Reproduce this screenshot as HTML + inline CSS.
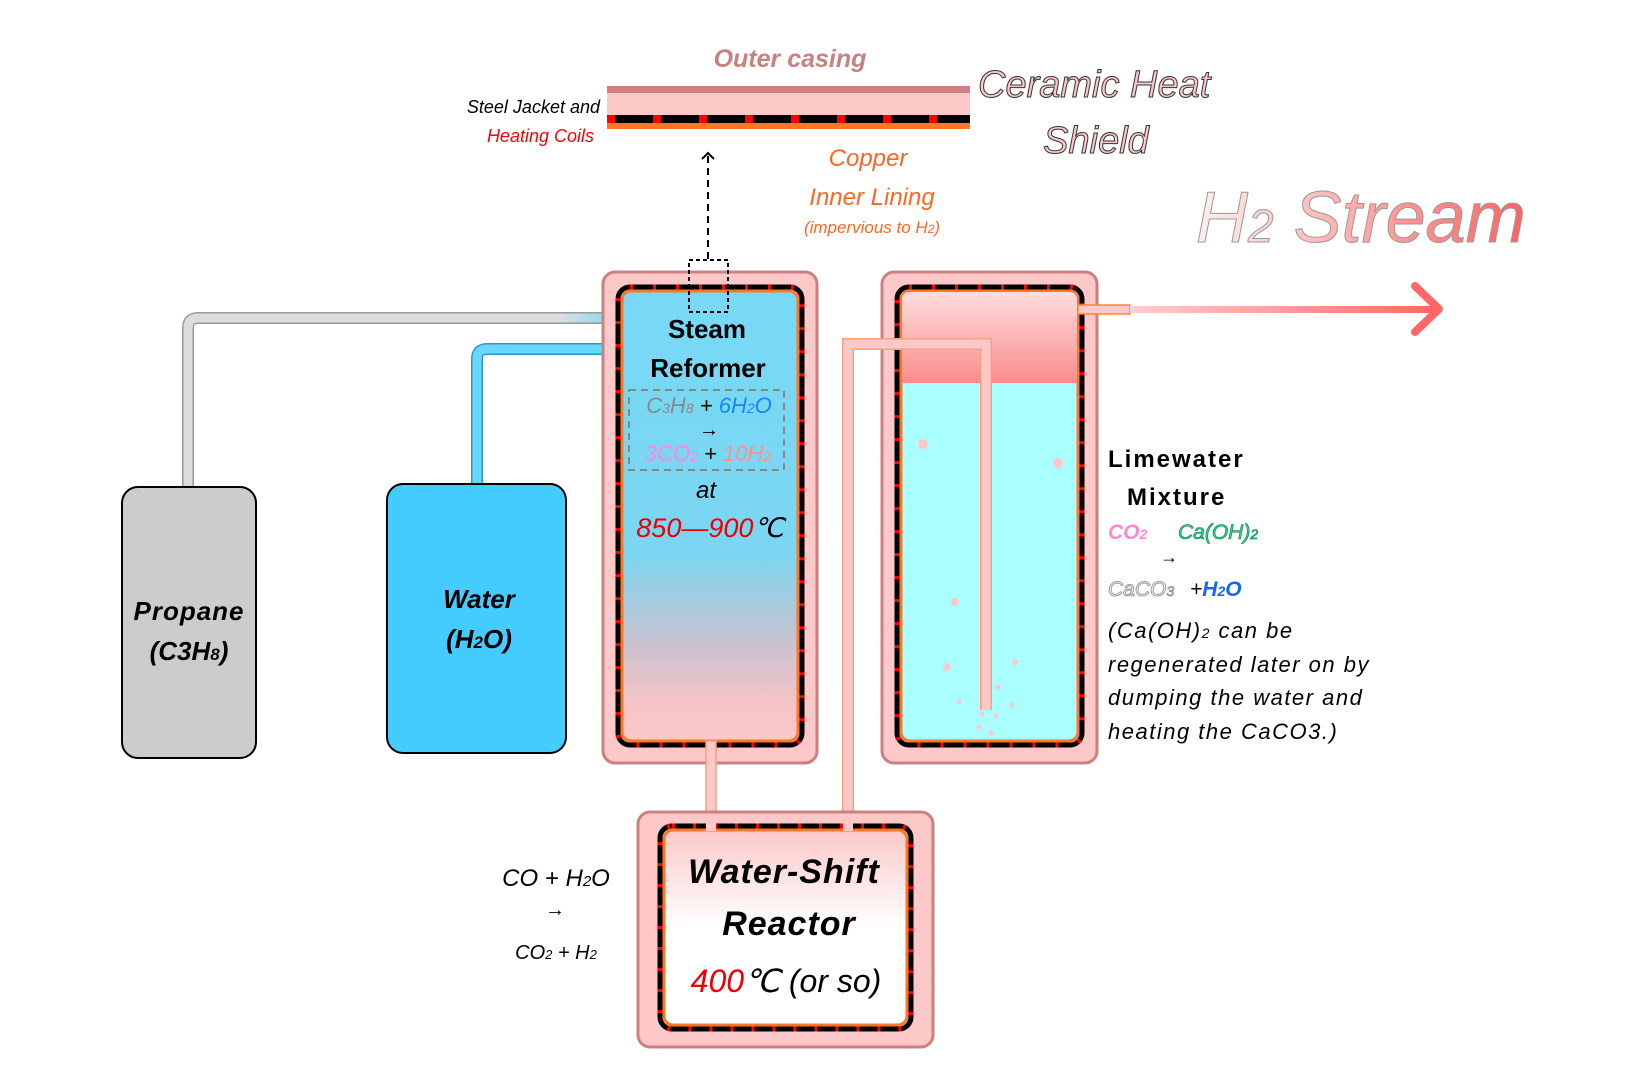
<!DOCTYPE html>
<html><head><meta charset="utf-8"><style>
html,body{margin:0;padding:0;background:#fff}
svg{display:block}
text{font-family:"Liberation Sans",sans-serif}
</style></head><body>
<svg width="1626" height="1090" viewBox="0 0 1626 1090" xmlns="http://www.w3.org/2000/svg">
<defs>
<linearGradient id="ref" x1="0" y1="291" x2="0" y2="741" gradientUnits="userSpaceOnUse">
<stop offset="0" stop-color="#77d9f6"/><stop offset="0.58" stop-color="#7ad6f2"/><stop offset="0.78" stop-color="#c8c2d0"/><stop offset="0.92" stop-color="#f7c4c6"/><stop offset="1" stop-color="#fcc8c8"/></linearGradient>
<linearGradient id="gas" x1="0" y1="291" x2="0" y2="383" gradientUnits="userSpaceOnUse">
<stop offset="0" stop-color="#ffdede"/><stop offset="1" stop-color="#f98c8c"/></linearGradient>
<linearGradient id="wsr" x1="0" y1="830" x2="0" y2="1025" gradientUnits="userSpaceOnUse">
<stop offset="0" stop-color="#fcc8c8"/><stop offset="0.5" stop-color="#ffffff"/><stop offset="1" stop-color="#ffffff"/></linearGradient>
<linearGradient id="h2l" x1="1130" y1="0" x2="1440" y2="0" gradientUnits="userSpaceOnUse">
<stop offset="0" stop-color="#ffd0d0"/><stop offset="1" stop-color="#ff6666"/></linearGradient>
<linearGradient id="h2t" x1="1196" y1="0" x2="1530" y2="0" gradientUnits="userSpaceOnUse">
<stop offset="0" stop-color="#fff0f0"/><stop offset="1" stop-color="#ff6060"/></linearGradient>
<linearGradient id="prop" x1="560" y1="0" x2="622" y2="0" gradientUnits="userSpaceOnUse">
<stop offset="0" stop-color="#dddddd"/><stop offset="1" stop-color="#77d9f6"/></linearGradient>
</defs>

<rect x="607" y="86" width="363" height="7" fill="#cc8080"/>
<rect x="607" y="93" width="363" height="22" fill="#fcc8c8"/>
<rect x="607" y="115" width="363" height="8" fill="#000"/>
<line x1="607" y1="119" x2="970" y2="119" stroke="#f00" stroke-width="8" stroke-dasharray="8 38"/>
<rect x="607" y="123" width="363" height="6" fill="#ff7722"/>
<text x="790" y="67" font-size="25" font-weight="bold" font-style="italic" fill="#c98080" text-anchor="middle">Outer casing</text>
<text x="600" y="113" font-size="18" font-style="italic" fill="#000" text-anchor="end">Steel Jacket and</text>
<text x="594" y="142" font-size="18" font-style="italic" fill="#f00" text-anchor="end">Heating Coils</text>
<text x="868" y="166" font-size="24" font-style="italic" fill="#ff6622" text-anchor="middle">Copper</text>
<text x="872" y="205" font-size="24" font-style="italic" fill="#ff6622" text-anchor="middle">Inner Lining</text>
<text x="872" y="233" font-size="17" font-style="italic" fill="#ff6622" text-anchor="middle">(impervious to H<tspan font-size="12">2</tspan>)</text>
<text x="978" y="97" font-size="38" font-style="italic" fill="#fcc8c8" stroke="#333" stroke-width="1">Ceramic Heat</text>
<text x="1096" y="153" font-size="38" font-style="italic" fill="#fcc8c8" stroke="#333" stroke-width="1" text-anchor="middle">Shield</text>
<text x="1196" y="242" font-size="72" font-style="italic" fill="url(#h2t)" stroke="#999" stroke-width="1">H<tspan font-size="46">2</tspan> Stream</text>

<line x1="708" y1="156" x2="708" y2="260" stroke="#000" stroke-width="2" stroke-dasharray="7 5"/>
<polyline points="702,159 708,153 714,159" fill="none" stroke="#000" stroke-width="2"/>

<path d="M188 487 V328 Q188 318 198 318 H622" fill="none" stroke="#999" stroke-width="12"/>
<path d="M188 487 V328 Q188 318 198 318 H622" fill="none" stroke="url(#prop)" stroke-width="9"/>
<path d="M188 487 V328 Q188 318 198 318 H560" fill="none" stroke="#dcdcdc" stroke-width="9"/>
<path d="M477 484 V359 Q477 349 487 349 H622" fill="none" stroke="#3399bb" stroke-width="12"/>
<path d="M477 484 V359 Q477 349 487 349 H622" fill="none" stroke="#66d8ff" stroke-width="9"/>

<rect x="122" y="487" width="134" height="271" rx="16" fill="#cccccc" stroke="#000" stroke-width="2"/>
<text x="189" y="620" font-size="26" font-weight="bold" font-style="italic" text-anchor="middle" letter-spacing="1">Propane</text>
<text x="189" y="660" font-size="26" font-weight="bold" font-style="italic" text-anchor="middle">(C3H<tspan font-size="17">8</tspan>)</text>
<rect x="387" y="484" width="179" height="269" rx="16" fill="#44ccff" stroke="#000" stroke-width="2"/>
<text x="479" y="608" font-size="26" font-weight="bold" font-style="italic" text-anchor="middle">Water</text>
<text x="479" y="648" font-size="26" font-weight="bold" font-style="italic" text-anchor="middle">(H<tspan font-size="17">2</tspan>O)</text>

<rect x="603" y="272" width="214" height="491" rx="12" fill="#fcc8c8" stroke="#cc8080" stroke-width="3"/>
<rect x="618" y="287" width="184" height="458" rx="12" fill="none" stroke="#000" stroke-width="5"/>
<rect x="618" y="287" width="184" height="458" rx="12" fill="none" stroke="#f00" stroke-width="5" stroke-dasharray="3 20"/>
<rect x="622" y="291" width="176" height="450" rx="9" fill="url(#ref)" stroke="#ff7722" stroke-width="3"/>
<rect x="689" y="260" width="39" height="52" fill="none" stroke="#000" stroke-width="2" stroke-dasharray="4 3"/>
<text x="707" y="338" font-size="26" font-weight="bold" text-anchor="middle">Steam</text>
<text x="708" y="377" font-size="26" font-weight="bold" text-anchor="middle">Reformer</text>
<rect x="629" y="390" width="155" height="80" fill="none" stroke="#888" stroke-width="2" stroke-dasharray="7 5"/>
<text x="709" y="413" font-size="22" font-style="italic" text-anchor="middle"><tspan fill="#888">C<tspan font-size="14">3</tspan>H<tspan font-size="14">8</tspan></tspan> <tspan fill="#000">+</tspan> <tspan fill="#1188ff">6H<tspan font-size="14">2</tspan>O</tspan></text>
<text x="709" y="436" font-size="20" text-anchor="middle">→</text>
<text x="708" y="461" font-size="22" font-style="italic" text-anchor="middle"><tspan fill="#ff88dd">3CO<tspan font-size="14">2</tspan></tspan> <tspan fill="#000">+</tspan> <tspan fill="#ff9090">10H<tspan font-size="14">2</tspan></tspan></text>
<text x="706" y="498" font-size="24" font-style="italic" text-anchor="middle">at</text>
<text x="710" y="537" font-size="27" font-style="italic" text-anchor="middle"><tspan fill="#e00">850—900</tspan>℃</text>

<rect x="882" y="272" width="215" height="491" rx="12" fill="#fcc8c8" stroke="#cc8080" stroke-width="3"/>
<rect x="897" y="287" width="185" height="458" rx="12" fill="none" stroke="#000" stroke-width="5"/>
<rect x="897" y="287" width="185" height="458" rx="12" fill="none" stroke="#f00" stroke-width="5" stroke-dasharray="3 20"/>
<rect x="901" y="291" width="177" height="450" rx="9" fill="#aaffff" stroke="#ff7722" stroke-width="3"/>
<path d="M902 383 V300 Q902 292 910 292 H1069 Q1077 292 1077 300 V383 Z" fill="url(#gas)"/>
<g fill="#fcc8c8">
<circle cx="923" cy="444" r="5"/><circle cx="1058" cy="463" r="5"/><circle cx="955" cy="602" r="4"/><circle cx="947" cy="667" r="4"/><circle cx="1015" cy="662" r="3"/><circle cx="998" cy="687" r="2.5"/><circle cx="959" cy="702" r="2.5"/><circle cx="1012" cy="705" r="2.5"/><circle cx="982" cy="714" r="2.5"/><circle cx="996" cy="716" r="2.5"/><circle cx="979" cy="727" r="2.5"/><circle cx="991" cy="733" r="2.5"/>
</g>
<rect x="1078" y="305" width="52" height="9" fill="#fcc8c8" stroke="#ff8833" stroke-width="1.5"/>
<line x1="1130" y1="309.5" x2="1436" y2="309.5" stroke="url(#h2l)" stroke-width="7"/>
<polyline points="1415,286 1439,309 1415,332" fill="none" stroke="#ff6666" stroke-width="8" stroke-linecap="round" stroke-linejoin="round"/>

<path d="M848 825 V344 H986 V710" fill="none" stroke="#f9a080" stroke-width="12"/>
<path d="M848 825 V344 H986 V710" fill="none" stroke="#fcc8c8" stroke-width="9"/>
<rect x="706" y="741" width="10" height="90" fill="#fcc8c8" stroke="#f9a080" stroke-width="1.5"/>

<rect x="638" y="812" width="295" height="235" rx="12" fill="#fcc8c8" stroke="#cc8080" stroke-width="3"/>
<rect x="660" y="826" width="251" height="203" rx="12" fill="none" stroke="#000" stroke-width="5"/>
<rect x="660" y="826" width="251" height="203" rx="12" fill="none" stroke="#f00" stroke-width="5" stroke-dasharray="3 18"/>
<rect x="664" y="830" width="243" height="195" rx="9" fill="url(#wsr)" stroke="#ff7722" stroke-width="3"/>
<rect x="706" y="820" width="10" height="11" fill="#fcc8c8"/>
<rect x="843" y="820" width="10" height="11" fill="#fcc8c8"/>
<text x="784" y="883" font-size="34" font-weight="bold" font-style="italic" text-anchor="middle" letter-spacing="1">Water-Shift</text>
<text x="789" y="935" font-size="34" font-weight="bold" font-style="italic" text-anchor="middle" letter-spacing="1">Reactor</text>
<text x="786" y="992" font-size="32" font-style="italic" text-anchor="middle"><tspan fill="#e00">400</tspan>℃ (or so)</text>
<text x="556" y="886" font-size="24" font-style="italic" text-anchor="middle">CO + H<tspan font-size="15">2</tspan>O</text>
<text x="555" y="916" font-size="20" text-anchor="middle">→</text>
<text x="556" y="959" font-size="20" font-style="italic" text-anchor="middle">CO<tspan font-size="13">2</tspan> + H<tspan font-size="13">2</tspan></text>

<text x="1108" y="467" font-size="24" font-weight="bold" letter-spacing="2">Limewater</text>
<text x="1127" y="505" font-size="24" font-weight="bold" letter-spacing="2">Mixture</text>
<text x="1108" y="539" font-size="21" font-weight="bold" font-style="italic" fill="#ff88cc">CO<tspan font-size="14">2</tspan></text>
<text x="1178" y="539" font-size="21" font-style="italic" fill="#22dd88" stroke="#117744" stroke-width="0.6">Ca(OH)<tspan font-size="14">2</tspan></text>
<text x="1160" y="563" font-size="18">→</text>
<text x="1108" y="596" font-size="21" font-style="italic" fill="#fff" stroke="#999" stroke-width="1">CaCO<tspan font-size="14">3</tspan></text>
<text x="1190" y="596" font-size="21" font-style="italic">+<tspan fill="#1166ff" font-weight="bold">H<tspan font-size="14">2</tspan>O</tspan></text>
<g font-size="22" font-style="italic" letter-spacing="1.5">
<text x="1108" y="638">(Ca(OH)<tspan font-size="14">2</tspan> can be</text>
<text x="1108" y="672">regenerated later on by</text>
<text x="1108" y="705">dumping the water and</text>
<text x="1108" y="739">heating the CaCO3.)</text>
</g>
</svg>
</body></html>
